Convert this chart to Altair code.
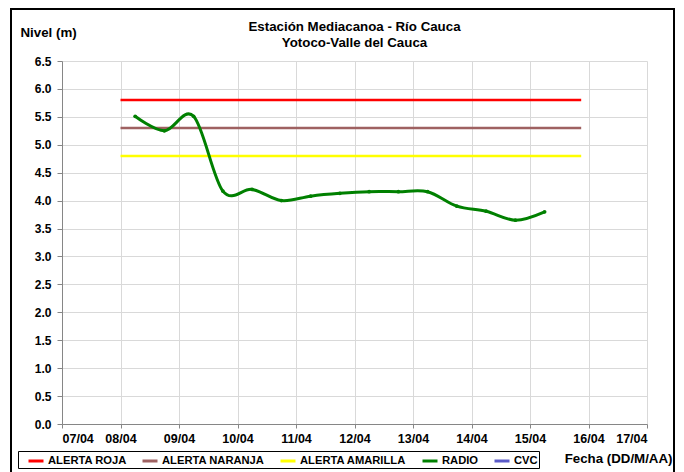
import altair as alt
import pandas as pd

# ---- data ----
radio_time = [
    "2013-04-08T06:00:00", "2013-04-08T18:00:00",
    "2013-04-09T06:00:00", "2013-04-09T18:00:00",
    "2013-04-10T06:00:00", "2013-04-10T18:00:00",
    "2013-04-11T06:00:00", "2013-04-11T18:00:00",
    "2013-04-12T06:00:00", "2013-04-12T18:00:00",
    "2013-04-13T06:00:00", "2013-04-13T18:00:00",
    "2013-04-14T06:00:00", "2013-04-14T18:00:00",
    "2013-04-15T06:00:00",
]
radio_level = [5.51, 5.25, 5.51, 4.17, 4.20, 4.00, 4.08, 4.13,
               4.16, 4.16, 4.16, 3.90, 3.81, 3.65, 3.80]

alert_names = ["ALERTA ROJA", "ALERTA NARANJA", "ALERTA AMARILLA"]
alert_levels = [5.8, 5.3, 4.8]
alert_start = "2013-04-08T00:00:00"
alert_end = "2013-04-15T21:00:00"

series = ["ALERTA ROJA", "ALERTA NARANJA", "ALERTA AMARILLA", "RADIO", "CVC"]
series_colors = ["#FF0000", "#9E6161", "#FFFF00", "#008000", "#5A5AC8"]

day_ticks = list(range(7, 18))  # 07/04 .. 17/04
y_ticks = [i * 0.5 for i in range(14)]

FONT = "Liberation Sans"

# ---- tables ----
radio_df = pd.DataFrame({"t": radio_time, "nivel": radio_level, "serie": "RADIO"})
alert_rows = []
for name, lvl in zip(alert_names, alert_levels):
    alert_rows.append({"t": alert_start, "nivel": lvl, "serie": name})
    alert_rows.append({"t": alert_end, "nivel": lvl, "serie": name})
alert_df = pd.DataFrame(alert_rows)

x_dates = [alt.DateTime(year=2013, month=4, date=d) for d in day_ticks]

x_enc = alt.X(
    "t:T",
    scale=alt.Scale(domain=[x_dates[0], x_dates[-1]]),
    axis=alt.Axis(
        values=x_dates, format="%d/%m",
        labelFont=FONT, labelFontSize=12.5, labelFontWeight="bold", labelColor="#000",
        labelPadding=4, tickSize=4, tickColor="#868686", domainColor="#868686",
        gridColor="#D9D9D9", grid=True,
        title="Fecha (DD/M/AA)", titleFont=FONT, titleFontSize=13.3, titleFontWeight="bold",
        titleColor="#000", titleX=610, titleY=34, titleAlign="right", titleBaseline="middle",
    ),
)
y_enc = alt.Y(
    "nivel:Q",
    scale=alt.Scale(domain=[0, 6.5], nice=False),
    axis=alt.Axis(
        values=y_ticks, format=".1f",
        labelFont=FONT, labelFontSize=12, labelFontWeight="bold", labelColor="#000",
        labelPadding=6, tickSize=5, tickColor="#868686", domainColor="#868686",
        gridColor="#D9D9D9", grid=True,
        title="Nivel (m)", titleFont=FONT, titleFontSize=13.3, titleFontWeight="bold",
        titleColor="#000", titleAngle=0, titleX=-42, titleY=-29,
        titleAlign="left", titleBaseline="middle",
    ),
)
color_enc = alt.Color(
    "serie:N",
    scale=alt.Scale(domain=series, range=series_colors),
    legend=alt.Legend(
        title=None, orient="none", legendX=-44, legendY=390, direction="horizontal",
        symbolType="stroke", symbolSize=225, symbolStrokeWidth=3, symbolOffset=8,
        labelFont=FONT, labelFontSize=11.2, labelFontWeight="bold", labelColor="#000",
        labelOffset=3, columnPadding=6, padding=1,
        strokeColor="#000", fillColor="#FFFFFF",
    ),
)

alerts = alt.Chart(alert_df).mark_line(strokeWidth=2.5).encode(
    x=x_enc, y=y_enc, color=color_enc, detail="serie:N"
)
radio = alt.Chart(radio_df).mark_line(
    strokeWidth=3, interpolate="cardinal",
    point=alt.OverlayMarkDef(filled=True, size=14, color="#008000"),
).encode(x=x_enc, y=y_enc, color=color_enc)

frame = alt.Chart(pd.DataFrame({"a": [0]})).mark_rect(
    fill=None, stroke="#000", strokeWidth=2, clip=False
).encode(
    x=alt.value(-51), x2=alt.value(612), y=alt.value(-52), y2=alt.value(416)
)

chart = alt.layer(alerts, radio, frame).properties(
    width=585, height=363,
    autosize=alt.AutoSizeParams(type="none"),
    padding={"left": 54, "top": 53, "right": 29, "bottom": 50},
    title=alt.TitleParams(
        ["Estación Mediacanoa - Río Cauca", "Yotoco-Valle del Cauca"],
        font=FONT, fontSize=13.3, fontWeight="bold", color="#000",
        anchor="middle", frame="group", dx=0, dy=49, offset=8, lineHeight=15.5,
    ),
).configure_view(stroke=None)

chart.save("out.html", embed_options={"renderer": "svg", "actions": False})
